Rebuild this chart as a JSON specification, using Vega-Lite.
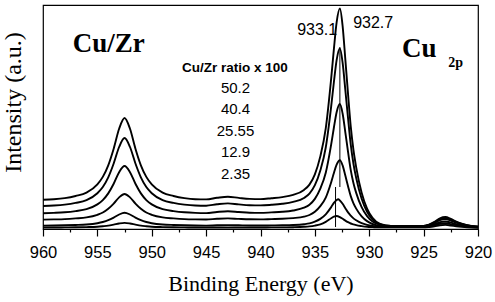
{
  "$schema": "https://vega.github.io/schema/vega-lite/v6.json",
  "width": 435,
  "height": 224,
  "autosize": {"type": "none"},
  "padding": {"left": 43, "top": 5, "right": 17, "bottom": 73},
  "background": "white",
  "config": {"view": {"stroke": "black", "strokeWidth": 1.2}, "font": "Liberation Sans"},
  "datasets": {
    "spectra": [
      {"s":1,"e":960,"v":29.2},{"s":1,"e":959,"v":29.8},{"s":1,"e":958,"v":30.9},{"s":1,"e":957,"v":33.0},{"s":1,"e":956,"v":36.3},{"s":1,"e":955,"v":44.6},{"s":1,"e":954.5,"v":52.1},{"s":1,"e":954,"v":63.7},{"s":1,"e":953.5,"v":80.3},{"s":1,"e":953,"v":100.2},{"s":1,"e":952.5,"v":111},{"s":1,"e":952,"v":100.2},{"s":1,"e":951.5,"v":80.3},{"s":1,"e":951,"v":63.7},{"s":1,"e":950.5,"v":52.1},{"s":1,"e":950,"v":44.6},{"s":1,"e":949,"v":36.3},{"s":1,"e":948,"v":33.0},{"s":1,"e":947,"v":30.9},{"s":1,"e":946,"v":29.8},{"s":1,"e":945,"v":29.6},{"s":1,"e":944,"v":31.2},{"s":1,"e":943,"v":32.3},{"s":1,"e":942,"v":31.1},{"s":1,"e":941,"v":30.1},{"s":1,"e":940,"v":29.9},{"s":1,"e":939,"v":30.8},{"s":1,"e":938,"v":31.9},{"s":1,"e":937,"v":34.1},{"s":1,"e":936,"v":39.1},{"s":1,"e":935.5,"v":44.4},{"s":1,"e":935,"v":54.7},{"s":1,"e":934.5,"v":72.6},{"s":1,"e":934,"v":100.6},{"s":1,"e":933.5,"v":150.6},{"s":1,"e":933.25,"v":180.1},{"s":1,"e":933,"v":206.6},{"s":1,"e":932.7,"v":220.5},{"s":1,"e":932.45,"v":203.2},{"s":1,"e":932.2,"v":169.7},{"s":1,"e":931.95,"v":134.9},{"s":1,"e":931.7,"v":102.4},{"s":1,"e":931.45,"v":78.8},{"s":1,"e":931.2,"v":61.7},{"s":1,"e":930.7,"v":36.3},{"s":1,"e":930.2,"v":20.4},{"s":1,"e":929.7,"v":11.2},{"s":1,"e":929,"v":5.0},{"s":1,"e":928,"v":3},{"s":1,"e":927,"v":3},{"s":1,"e":926,"v":3},{"s":1,"e":925,"v":3},{"s":1,"e":924.5,"v":4.4},{"s":1,"e":924,"v":7.1},{"s":1,"e":923.5,"v":10.7},{"s":1,"e":923,"v":12},{"s":1,"e":922.5,"v":10.1},{"s":1,"e":922,"v":7.3},{"s":1,"e":921.5,"v":5.3},{"s":1,"e":921,"v":3.8},{"s":1,"e":920,"v":2.3},

      {"s":2,"e":960,"v":23.0},{"s":2,"e":959,"v":23.5},{"s":2,"e":958,"v":24.4},{"s":2,"e":957,"v":26.1},{"s":2,"e":956,"v":28.9},{"s":2,"e":955,"v":35.8},{"s":2,"e":954.5,"v":42.0},{"s":2,"e":954,"v":51.7},{"s":2,"e":953.5,"v":65.5},{"s":2,"e":953,"v":82.0},{"s":2,"e":952.5,"v":91.0},{"s":2,"e":952,"v":82.0},{"s":2,"e":951.5,"v":65.5},{"s":2,"e":951,"v":51.7},{"s":2,"e":950.5,"v":42.0},{"s":2,"e":950,"v":35.8},{"s":2,"e":949,"v":28.9},{"s":2,"e":948,"v":26.1},{"s":2,"e":947,"v":24.4},{"s":2,"e":946,"v":23.5},{"s":2,"e":945,"v":23.3},{"s":2,"e":944,"v":24.7},{"s":2,"e":943,"v":25.6},{"s":2,"e":942,"v":24.6},{"s":2,"e":941,"v":23.8},{"s":2,"e":940,"v":23.6},{"s":2,"e":939,"v":24.2},{"s":2,"e":938,"v":25.2},{"s":2,"e":937,"v":27.1},{"s":2,"e":936,"v":31.0},{"s":2,"e":935.5,"v":35.4},{"s":2,"e":935,"v":43.8},{"s":2,"e":934.5,"v":58.6},{"s":2,"e":934,"v":81.5},{"s":2,"e":933.5,"v":122.6},{"s":2,"e":933.25,"v":147.0},{"s":2,"e":933,"v":168.9},{"s":2,"e":932.7,"v":180.5},{"s":2,"e":932.45,"v":166.4},{"s":2,"e":932.2,"v":139.1},{"s":2,"e":931.95,"v":110.8},{"s":2,"e":931.7,"v":84.3},{"s":2,"e":931.45,"v":65.0},{"s":2,"e":931.2,"v":51.0},{"s":2,"e":930.7,"v":30.3},{"s":2,"e":930.2,"v":17.3},{"s":2,"e":929.7,"v":9.7},{"s":2,"e":929,"v":4.7},{"s":2,"e":928,"v":3},{"s":2,"e":927,"v":3},{"s":2,"e":926,"v":3},{"s":2,"e":925,"v":3},{"s":2,"e":924.5,"v":4.2},{"s":2,"e":924,"v":6.6},{"s":2,"e":923.5,"v":9.8},{"s":2,"e":923,"v":11},{"s":2,"e":922.5,"v":9.3},{"s":2,"e":922,"v":6.8},{"s":2,"e":921.5,"v":5.0},{"s":2,"e":921,"v":3.6},{"s":2,"e":920,"v":2.2},

      {"s":3,"e":960,"v":15.7},{"s":3,"e":959,"v":16.1},{"s":3,"e":958,"v":16.7},{"s":3,"e":957,"v":17.9},{"s":3,"e":956,"v":19.8},{"s":3,"e":955,"v":24.6},{"s":3,"e":954.5,"v":28.9},{"s":3,"e":954,"v":35.6},{"s":3,"e":953.5,"v":45.2},{"s":3,"e":953,"v":56.8},{"s":3,"e":952.5,"v":63},{"s":3,"e":952,"v":56.8},{"s":3,"e":951.5,"v":45.2},{"s":3,"e":951,"v":35.6},{"s":3,"e":950.5,"v":28.9},{"s":3,"e":950,"v":24.6},{"s":3,"e":949,"v":19.8},{"s":3,"e":948,"v":17.9},{"s":3,"e":947,"v":16.7},{"s":3,"e":946,"v":16.1},{"s":3,"e":945,"v":15.9},{"s":3,"e":944,"v":17.0},{"s":3,"e":943,"v":17.7},{"s":3,"e":942,"v":17.0},{"s":3,"e":941,"v":16.3},{"s":3,"e":940,"v":16.1},{"s":3,"e":939,"v":16.6},{"s":3,"e":938,"v":17.2},{"s":3,"e":937,"v":18.5},{"s":3,"e":936,"v":21.3},{"s":3,"e":935.5,"v":24.3},{"s":3,"e":935,"v":30.1},{"s":3,"e":934.5,"v":40.3},{"s":3,"e":934,"v":56.2},{"s":3,"e":933.5,"v":84.6},{"s":3,"e":933.25,"v":101.5},{"s":3,"e":933,"v":116.8},{"s":3,"e":932.7,"v":125},{"s":3,"e":932.45,"v":115.5},{"s":3,"e":932.2,"v":96.7},{"s":3,"e":931.95,"v":77.2},{"s":3,"e":931.7,"v":58.9},{"s":3,"e":931.45,"v":45.8},{"s":3,"e":931.2,"v":36.1},{"s":3,"e":930.7,"v":21.8},{"s":3,"e":930.2,"v":12.9},{"s":3,"e":929.7,"v":7.6},{"s":3,"e":929,"v":4.2},{"s":3,"e":928,"v":3},{"s":3,"e":927,"v":3},{"s":3,"e":926,"v":3},{"s":3,"e":925,"v":3},{"s":3,"e":924.5,"v":4.1},{"s":3,"e":924,"v":6.2},{"s":3,"e":923.5,"v":9.0},{"s":3,"e":923,"v":10},{"s":3,"e":922.5,"v":8.5},{"s":3,"e":922,"v":6.3},{"s":3,"e":921.5,"v":4.7},{"s":3,"e":921,"v":3.5},{"s":3,"e":920,"v":2.2},

      {"s":4,"e":960,"v":9.4},{"s":4,"e":959,"v":9.6},{"s":4,"e":958,"v":9.9},{"s":4,"e":957,"v":10.6},{"s":4,"e":956,"v":11.6},{"s":4,"e":955,"v":14.2},{"s":4,"e":954.5,"v":16.5},{"s":4,"e":954,"v":20.2},{"s":4,"e":953.5,"v":25.4},{"s":4,"e":953,"v":31.6},{"s":4,"e":952.5,"v":35},{"s":4,"e":952,"v":31.6},{"s":4,"e":951.5,"v":25.4},{"s":4,"e":951,"v":20.2},{"s":4,"e":950.5,"v":16.5},{"s":4,"e":950,"v":14.2},{"s":4,"e":949,"v":11.6},{"s":4,"e":948,"v":10.6},{"s":4,"e":947,"v":9.9},{"s":4,"e":946,"v":9.6},{"s":4,"e":945,"v":9.5},{"s":4,"e":944,"v":10.2},{"s":4,"e":943,"v":10.6},{"s":4,"e":942,"v":10.1},{"s":4,"e":941,"v":9.7},{"s":4,"e":940,"v":9.6},{"s":4,"e":939,"v":9.9},{"s":4,"e":938,"v":10.2},{"s":4,"e":937,"v":10.9},{"s":4,"e":936,"v":12.3},{"s":4,"e":935.5,"v":14.0},{"s":4,"e":935,"v":17.2},{"s":4,"e":934.5,"v":22.8},{"s":4,"e":934,"v":31.4},{"s":4,"e":933.5,"v":46.8},{"s":4,"e":933.25,"v":56.0},{"s":4,"e":933,"v":64.3},{"s":4,"e":932.7,"v":68.8},{"s":4,"e":932.45,"v":63.6},{"s":4,"e":932.2,"v":53.4},{"s":4,"e":931.95,"v":42.8},{"s":4,"e":931.7,"v":32.9},{"s":4,"e":931.45,"v":25.7},{"s":4,"e":931.2,"v":20.4},{"s":4,"e":930.7,"v":12.7},{"s":4,"e":930.2,"v":7.9},{"s":4,"e":929.7,"v":5.0},{"s":4,"e":929,"v":3.1},{"s":4,"e":928,"v":2.5},{"s":4,"e":927,"v":2.5},{"s":4,"e":926,"v":2.5},{"s":4,"e":925,"v":2.5},{"s":4,"e":924.5,"v":3.3},{"s":4,"e":924,"v":4.8},{"s":4,"e":923.5,"v":6.8},{"s":4,"e":923,"v":7.5},{"s":4,"e":922.5,"v":6.4},{"s":4,"e":922,"v":4.8},{"s":4,"e":921.5,"v":3.7},{"s":4,"e":921,"v":2.8},{"s":4,"e":920,"v":1.9},

      {"s":5,"e":960,"v":3.4},{"s":5,"e":959,"v":3.5},{"s":5,"e":958,"v":3.7},{"s":5,"e":957,"v":4.0},{"s":5,"e":956,"v":4.5},{"s":5,"e":955,"v":5.8},{"s":5,"e":954.5,"v":7.0},{"s":5,"e":954,"v":8.8},{"s":5,"e":953.5,"v":11.4},{"s":5,"e":953,"v":14.5},{"s":5,"e":952.5,"v":16.2},{"s":5,"e":952,"v":14.5},{"s":5,"e":951.5,"v":11.4},{"s":5,"e":951,"v":8.8},{"s":5,"e":950.5,"v":7.0},{"s":5,"e":950,"v":5.8},{"s":5,"e":949,"v":4.5},{"s":5,"e":948,"v":4.0},{"s":5,"e":947,"v":3.7},{"s":5,"e":946,"v":3.5},{"s":5,"e":945,"v":3.4},{"s":5,"e":944,"v":3.7},{"s":5,"e":943,"v":3.9},{"s":5,"e":942,"v":3.7},{"s":5,"e":941,"v":3.5},{"s":5,"e":940,"v":3.5},{"s":5,"e":939,"v":3.6},{"s":5,"e":938,"v":3.7},{"s":5,"e":937,"v":4.0},{"s":5,"e":936,"v":4.8},{"s":5,"e":935.5,"v":5.6},{"s":5,"e":935,"v":7.3},{"s":5,"e":934.5,"v":10.1},{"s":5,"e":934,"v":14.7},{"s":5,"e":933.5,"v":21.9},{"s":5,"e":933.25,"v":26.1},{"s":5,"e":933,"v":29.0},{"s":5,"e":932.85,"v":29.7},{"s":5,"e":932.7,"v":28.5},{"s":5,"e":932.45,"v":25.2},{"s":5,"e":932.2,"v":20.8},{"s":5,"e":931.95,"v":16.6},{"s":5,"e":931.7,"v":13.4},{"s":5,"e":931.45,"v":10.6},{"s":5,"e":931.2,"v":8.7},{"s":5,"e":930.7,"v":5.8},{"s":5,"e":930.2,"v":4.1},{"s":5,"e":929.7,"v":3.0},{"s":5,"e":929,"v":2.3},{"s":5,"e":928,"v":2.2},{"s":5,"e":927,"v":2.2},{"s":5,"e":926,"v":2.2},{"s":5,"e":925,"v":2.2},{"s":5,"e":924.5,"v":2.7},{"s":5,"e":924,"v":3.8},{"s":5,"e":923.5,"v":5.2},{"s":5,"e":923,"v":5.7},{"s":5,"e":922.5,"v":4.9},{"s":5,"e":922,"v":3.8},{"s":5,"e":921.5,"v":3.0},{"s":5,"e":921,"v":2.3},{"s":5,"e":920,"v":1.6},

      {"s":6,"e":960,"v":1.5},{"s":6,"e":959,"v":1.5},{"s":6,"e":958,"v":1.6},{"s":6,"e":957,"v":1.7},{"s":6,"e":956,"v":1.9},{"s":6,"e":955,"v":2.3},{"s":6,"e":954.5,"v":2.8},{"s":6,"e":954,"v":3.4},{"s":6,"e":953.5,"v":4.4},{"s":6,"e":953,"v":5.5},{"s":6,"e":952.5,"v":6.1},{"s":6,"e":952,"v":5.5},{"s":6,"e":951.5,"v":4.4},{"s":6,"e":951,"v":3.4},{"s":6,"e":950.5,"v":2.8},{"s":6,"e":950,"v":2.3},{"s":6,"e":949,"v":1.9},{"s":6,"e":948,"v":1.7},{"s":6,"e":947,"v":1.6},{"s":6,"e":946,"v":1.5},{"s":6,"e":945,"v":1.5},{"s":6,"e":944,"v":1.5},{"s":6,"e":943,"v":1.5},{"s":6,"e":942,"v":1.5},{"s":6,"e":941,"v":1.5},{"s":6,"e":940,"v":1.5},{"s":6,"e":939,"v":1.6},{"s":6,"e":938,"v":1.6},{"s":6,"e":937,"v":1.8},{"s":6,"e":936,"v":2.2},{"s":6,"e":935.5,"v":2.6},{"s":6,"e":935,"v":3.4},{"s":6,"e":934.5,"v":4.7},{"s":6,"e":934,"v":7.2},{"s":6,"e":933.5,"v":10.7},{"s":6,"e":933.25,"v":12.3},{"s":6,"e":933,"v":13.0},{"s":6,"e":932.7,"v":11.9},{"s":6,"e":932.45,"v":10.2},{"s":6,"e":932.2,"v":8.4},{"s":6,"e":931.95,"v":6.8},{"s":6,"e":931.7,"v":5.5},{"s":6,"e":931.45,"v":4.7},{"s":6,"e":931.2,"v":3.9},{"s":6,"e":930.7,"v":2.9},{"s":6,"e":930.2,"v":2.2},{"s":6,"e":929.7,"v":1.9},{"s":6,"e":929,"v":1.6},{"s":6,"e":928,"v":1.6},{"s":6,"e":927,"v":1.6},{"s":6,"e":926,"v":1.6},{"s":6,"e":925,"v":1.6},{"s":6,"e":924.5,"v":2.0},{"s":6,"e":924,"v":2.7},{"s":6,"e":923.5,"v":3.7},{"s":6,"e":923,"v":4.1},{"s":6,"e":922.5,"v":3.5},{"s":6,"e":922,"v":2.8},{"s":6,"e":921.5,"v":2.2},{"s":6,"e":921,"v":1.7},{"s":6,"e":920,"v":1.1}
    ],
    "peakMarkers": [
      {"e": 933.1, "lo": 2, "hi": 42},
      {"e": 932.7, "lo": 42, "hi": 182}
    ],
    "bigLabels": [
      {"t": "Cu/Zr", "e": 953.96, "v": 185},
      {"t": "Cu", "e": 925.4, "v": 180}
    ],
    "subLabel": [{"t": "2p", "e": 922.05, "v": 166}],
    "ratioHeader": [{"t": "Cu/Zr ratio x 100", "e": 942.35, "v": 161}],
    "ratios": [
      {"t": "50.2", "e": 942.3, "v": 141},
      {"t": "40.4", "e": 942.3, "v": 120},
      {"t": "25.55", "e": 942.3, "v": 98},
      {"t": "12.9", "e": 942.3, "v": 77},
      {"t": "2.35", "e": 942.3, "v": 55}
    ],
    "peakLabels": [
      {"t": "933.1", "e": 934.79, "v": 199},
      {"t": "932.7", "e": 929.64, "v": 206}
    ]
  },
  "layer": [
    {
      "data": {"name": "spectra"},
      "mark": {"type": "line", "color": "black", "strokeWidth": 1.9, "interpolate": "monotone"},
      "encoding": {
        "x": {
          "field": "e", "type": "quantitative",
          "scale": {"domain": [920, 960], "reverse": true, "nice": false, "zero": false},
          "axis": {
            "values": [960, 957.5, 955, 952.5, 950, 947.5, 945, 942.5, 940, 937.5, 935, 932.5, 930, 927.5, 925, 922.5, 920],
            "labelExpr": "datum.value % 5 === 0 ? format(datum.value, 'd') : ''",
            "domain": false, "grid": false,
            "tickSize": 7, "tickColor": "black", "tickWidth": 1.2,
            "tickDash": {"condition": {"test": "datum.value % 5 !== 0", "value": [3, 10]}, "value": []},
            "labelFont": "Liberation Sans", "labelFontSize": 16.5, "labelColor": "black",
            "labelPadding": 8, "labelFlush": false, "labelOverlap": false, "labelBound": false,
            "title": "Binding Energy (eV)",
            "titleFont": "Liberation Serif", "titleFontSize": 22, "titleFontWeight": "normal",
            "titleColor": "black", "titleBaseline": "alphabetic", "titleY": 61
          }
        },
        "y": {
          "field": "v", "type": "quantitative",
          "scale": {"domain": [0, 224], "nice": false, "zero": true},
          "axis": {
            "domain": false, "ticks": false, "labels": false, "grid": false,
            "title": "Intensity (a.u.)",
            "titleFont": "Liberation Serif", "titleFontSize": 24, "titleFontWeight": "normal",
            "titleColor": "black", "titleAngle": -90, "titleX": -30, "titleY": 97,
            "titleBaseline": "middle", "titleAlign": "center"
          }
        },
        "detail": {"field": "s", "type": "nominal"}
      }
    },
    {
      "data": {"name": "peakMarkers"},
      "mark": {"type": "rule", "color": "black", "strokeWidth": 1},
      "encoding": {
        "x": {"field": "e", "type": "quantitative", "axis": null},
        "y": {"field": "lo", "type": "quantitative", "axis": null},
        "y2": {"field": "hi"}
      }
    },
    {
      "data": {"name": "bigLabels"},
      "mark": {"type": "text", "font": "Liberation Serif", "fontWeight": "bold", "fontSize": 27, "color": "black", "align": "center", "baseline": "middle"},
      "encoding": {
        "x": {"field": "e", "type": "quantitative", "axis": null},
        "y": {"field": "v", "type": "quantitative", "axis": null},
        "text": {"field": "t"}
      }
    },
    {
      "data": {"name": "subLabel"},
      "mark": {"type": "text", "font": "Liberation Serif", "fontWeight": "bold", "fontSize": 14, "color": "black", "align": "center", "baseline": "middle"},
      "encoding": {
        "x": {"field": "e", "type": "quantitative", "axis": null},
        "y": {"field": "v", "type": "quantitative", "axis": null},
        "text": {"field": "t"}
      }
    },
    {
      "data": {"name": "ratioHeader"},
      "mark": {"type": "text", "font": "Liberation Sans", "fontWeight": "bold", "fontSize": 13.5, "color": "black", "align": "center", "baseline": "middle"},
      "encoding": {
        "x": {"field": "e", "type": "quantitative", "axis": null},
        "y": {"field": "v", "type": "quantitative", "axis": null},
        "text": {"field": "t"}
      }
    },
    {
      "data": {"name": "ratios"},
      "mark": {"type": "text", "font": "Liberation Sans", "fontSize": 15, "color": "black", "align": "center", "baseline": "middle"},
      "encoding": {
        "x": {"field": "e", "type": "quantitative", "axis": null},
        "y": {"field": "v", "type": "quantitative", "axis": null},
        "text": {"field": "t"}
      }
    },
    {
      "data": {"name": "peakLabels"},
      "mark": {"type": "text", "font": "Liberation Sans", "fontSize": 16, "color": "black", "align": "center", "baseline": "middle"},
      "encoding": {
        "x": {"field": "e", "type": "quantitative", "axis": null},
        "y": {"field": "v", "type": "quantitative", "axis": null},
        "text": {"field": "t"}
      }
    }
  ],
  "resolve": {"axis": {"x": "independent", "y": "independent"}}
}
